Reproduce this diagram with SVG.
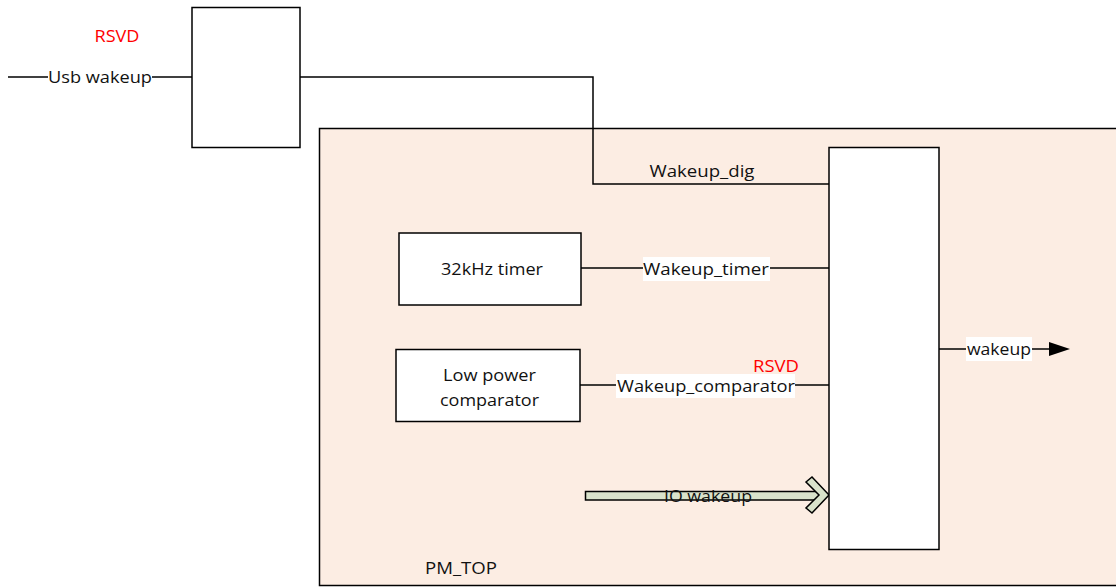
<svg xmlns="http://www.w3.org/2000/svg" width="1116" height="588" viewBox="0 0 1116 588">
<style>
.box{fill:#fff;stroke:#000;stroke-width:1.5}
.ln{fill:none;stroke:#000;stroke-width:1.5}
.t{font-family:"Open Sans","Liberation Sans",sans-serif;font-size:17px;fill:#111}
.red{font-family:"Open Sans","Liberation Sans",sans-serif;font-size:17px;fill:#ff0000}
.bg{fill:#fff}
</style>
<rect width="1116" height="588" fill="#fff"/>
<g id="pm_top">
<rect x="319.5" y="128.5" width="800" height="457" fill="#fcede3" stroke="#000" stroke-width="1.5"/>
<text class="t" x="461" y="574" text-anchor="middle" textLength="72" lengthAdjust="spacingAndGlyphs">PM_TOP</text>
</g>
<g id="connectors">
<line class="ln" x1="8" y1="77" x2="192" y2="77"/>
<rect class="bg" x="48" y="67" width="104" height="20"/>
<text class="t" x="100" y="83" text-anchor="middle" textLength="104" lengthAdjust="spacingAndGlyphs">Usb wakeup</text>
<polyline class="ln" points="300,77 593,77 593,184 829,184"/>
<text class="t" x="702" y="177" text-anchor="middle" textLength="105" lengthAdjust="spacingAndGlyphs">Wakeup_dig</text>
<line class="ln" x1="581" y1="268" x2="829" y2="268"/>
<rect class="bg" x="643" y="257" width="127" height="24"/>
<text class="t" x="706" y="275" text-anchor="middle" textLength="126" lengthAdjust="spacingAndGlyphs">Wakeup_timer</text>
<line class="ln" x1="580" y1="385" x2="829" y2="385"/>
<rect class="bg" x="616" y="374" width="179" height="24"/>
<text class="t" x="706" y="392" text-anchor="middle" textLength="178" lengthAdjust="spacingAndGlyphs">Wakeup_comparator</text>
<line class="ln" x1="939" y1="349" x2="1050" y2="349"/>
<polygon points="1049,342 1070,349 1049,356" fill="#000"/>
<rect class="bg" x="966" y="337" width="66" height="24"/>
<text class="t" x="999" y="355" text-anchor="middle" textLength="64" lengthAdjust="spacingAndGlyphs">wakeup</text>
<g id="io_wakeup">
<polygon points="585.5,491.5 823,491.5 823,500 585.5,500" fill="#d9e2cb" stroke="#000" stroke-width="1.5"/>
<polygon points="812,477 829,495 812,513 806,508 819,495 806,482" fill="#d9e2cb" stroke="#000" stroke-width="1.5"/>
<text class="t" x="708" y="502" text-anchor="middle" textLength="88" lengthAdjust="spacingAndGlyphs">IO wakeup</text>
</g>
</g>
<g id="usb_block">
<rect class="box" x="192" y="7.5" width="108" height="140"/>
</g>
<text class="red" x="117" y="42" text-anchor="middle" textLength="45" lengthAdjust="spacingAndGlyphs">RSVD</text>
<g id="timer32k">
<rect class="box" x="399" y="233" width="182" height="72"/>
<text class="t" x="492" y="275" text-anchor="middle" textLength="102" lengthAdjust="spacingAndGlyphs">32kHz timer</text>
</g>
<g id="lp_comparator">
<rect class="box" x="396" y="349.5" width="184" height="72"/>
<text class="t" x="489.5" y="381" text-anchor="middle" textLength="93" lengthAdjust="spacingAndGlyphs">Low power</text>
<text class="t" x="489.5" y="406" text-anchor="middle" textLength="99" lengthAdjust="spacingAndGlyphs">comparator</text>
</g>
<g id="wakeup_mux">
<rect class="box" x="829" y="147.5" width="110" height="402"/>
</g>
<text class="red" x="776" y="372" text-anchor="middle" textLength="46" lengthAdjust="spacingAndGlyphs">RSVD</text>
</svg>
